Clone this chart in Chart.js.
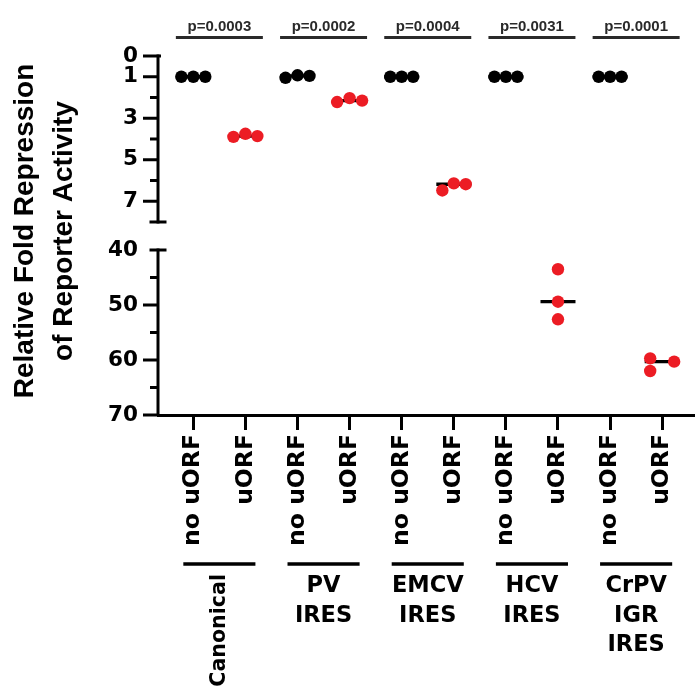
<!DOCTYPE html>
<html><head><meta charset="utf-8">
<script src="https://cdn.jsdelivr.net/npm/chart.js@4/dist/chart.umd.min.js"></script>
<style>html,body{margin:0;padding:0;background:#fff}canvas{display:block}</style>
</head><body>
<canvas id="c" width="695" height="692"></canvas>
<script>
// ---- data ----
const tickLabels = ['no uORF','uORF','no uORF','uORF','no uORF','uORF','no uORF','uORF','no uORF','uORF'];
const groupLabels = [['Canonical'],['PV','IRES'],['EMCV','IRES'],['HCV','IRES'],['CrPV','IGR','IRES']];
const pValues = ['p=0.0003','p=0.0002','p=0.0004','p=0.0031','p=0.0001'];
const noUorfValues = [[1,1,1],[1.05,0.93,0.96],[1,1,1],[1,1,1],[1,1,1]];
const uorfValues = [[3.9,3.75,3.86],[2.22,2.03,2.15],[6.48,6.14,6.18],[43.5,49.4,52.6],[59.7,62.0,60.3]];
const noUorfSpread = [[-0.23,0,0.23],[-0.23,0,0.23],[-0.22,0,0.22],[-0.22,0,0.22],[-0.22,0,0.22]];
const uorfSpread = [[-0.23,0,0.23],[-0.24,0,0.24],[-0.22,0,0.23],[0,0,0],[-0.23,-0.23,0.23]];
const topTicks = [0,1,3,5,7];
const topMinor = [2,4,6];
const topBreak = 8;
const bottomTicks = [40,50,60,70];
const bottomMinor = [45,55,65];
const bottomBreak = 40;
const yTitle = ['Relative Fold Repression','of Reporter Activity'];

// ---- build datasets ----
const median = a => { const s=[...a].sort((p,q)=>p-q); return s[Math.floor(s.length/2)]; };
const axisFor = v => v <= topBreak ? 'yTop' : 'yBot';
const blackPts = [], redTop = [], redBot = [], medTop = [], medBot = [];
noUorfValues.forEach((vals,g)=>{
  vals.forEach((v,i)=>blackPts.push({x:2*g+noUorfSpread[g][i], y:v}));
  const m = median(vals); (axisFor(m)==='yTop'?medTop:medBot).push({x:2*g, y:m});
});
uorfValues.forEach((vals,g)=>{
  vals.forEach((v,i)=>{ const p={x:2*g+1+uorfSpread[g][i], y:v}; (axisFor(v)==='yTop'?redTop:redBot).push(p); });
  const m = median(vals); (axisFor(m)==='yTop'?medTop:medBot).push({x:2*g+1, y:m});
});
const RED = '#EC1C24';
const dotStyle = c => ({pointRadius:6.2, pointBackgroundColor:c, pointBorderColor:c, pointBorderWidth:0, showLine:false, order:0});
const medStyle = {pointStyle:'line', pointRadius:17.5, pointBorderColor:'#000', pointBorderWidth:3.3, showLine:false, order:5};

const yTick = {color:'#000', padding:20, font:{family:'DejaVu Sans', weight:'bold', size:21.5}};

const axisPlugin = {
  id:'brokenAxis',
  afterDraw(chart){
    const ctx = chart.ctx, yt = chart.scales.yTop, yb = chart.scales.yBot, xs = chart.scales.x;
    const X = chart.chartArea.left;
    ctx.save();
    ctx.strokeStyle = '#000'; ctx.lineWidth = 3; ctx.lineCap = 'butt';
    const seg = (x1,y1,x2,y2)=>{ctx.beginPath();ctx.moveTo(x1,y1);ctx.lineTo(x2,y2);ctx.stroke();};
    // top segment
    seg(X, yt.getPixelForValue(topTicks[0])-1.5, X, yt.getPixelForValue(topBreak)+1.5);
    topTicks.forEach((v,i)=>seg(X-15, yt.getPixelForValue(v), i===0?X+3:X, yt.getPixelForValue(v)));
    topMinor.forEach(v=>seg(X-8, yt.getPixelForValue(v), X, yt.getPixelForValue(v)));
    seg(X-8.5, yt.getPixelForValue(topBreak), X+8.5, yt.getPixelForValue(topBreak));
    // bottom segment
    seg(X, yb.getPixelForValue(bottomBreak)-1.5, X, yb.getPixelForValue(bottomTicks[bottomTicks.length-1]));
    seg(X-8.5, yb.getPixelForValue(bottomBreak), X+8.5, yb.getPixelForValue(bottomBreak));
    bottomTicks.forEach(v=>{ if(v!==bottomBreak) seg(X-15, yb.getPixelForValue(v), X, yb.getPixelForValue(v)); });
    bottomMinor.forEach(v=>seg(X-8, yb.getPixelForValue(v), X, yb.getPixelForValue(v)));

    // group annotations
    groupLabels.forEach((lines,g)=>{
      const x0 = xs.getPixelForValue(2*g), x1 = xs.getPixelForValue(2*g+1), cx=(x0+x1)/2;
      // p-value bar
      ctx.strokeStyle = '#2a2a2a'; ctx.lineWidth = 3;
      seg(cx-43.5, 37.5, cx+43.5, 37.5);
      ctx.fillStyle = '#2a2a2a';
      ctx.font = 'bold 15px "Liberation Sans"'; ctx.textAlign='center'; ctx.textBaseline='alphabetic';
      ctx.fillText(pValues[g], cx, 30.5);
      // group line
      ctx.strokeStyle = '#000'; ctx.lineWidth = 3.5;
      seg(x0-10, 564, x1+10, 564);
      ctx.fillStyle = '#000';
      if (lines.length===1){
        ctx.font = 'bold 20.6px "DejaVu Sans"';
        ctx.save(); ctx.translate(cx, 574); ctx.rotate(-Math.PI/2);
        ctx.textAlign='right'; ctx.textBaseline='middle'; ctx.fillText(lines[0],0,0); ctx.restore();
      } else {
        ctx.font = 'bold 22.5px "DejaVu Sans"';
        lines.forEach((t,k)=>{ ctx.textAlign='center'; ctx.textBaseline='alphabetic'; ctx.fillText(t, cx, 592+29.5*k); });
      }
    });
    // y title
    ctx.fillStyle = '#000'; ctx.font = 'bold 28px "Liberation Sans"';
    [33,72].forEach((bx,k)=>{
      ctx.save(); ctx.translate(bx, 231); ctx.rotate(-Math.PI/2);
      ctx.textAlign='center'; ctx.textBaseline='alphabetic'; ctx.fillText(yTitle[k],0,0); ctx.restore();
    });
    ctx.restore();
  }
};

new Chart(document.getElementById('c'), {
  type:'scatter',
  data:{datasets:[
    Object.assign({label:'no uORF', data:blackPts, yAxisID:'yTop'}, dotStyle('#000')),
    Object.assign({label:'uORF', data:redTop, yAxisID:'yTop'}, dotStyle(RED)),
    Object.assign({label:'uORF ', data:redBot, yAxisID:'yBot'}, dotStyle(RED)),
    Object.assign({label:'median', data:medTop, yAxisID:'yTop'}, medStyle),
    Object.assign({label:'median ', data:medBot, yAxisID:'yBot'}, medStyle)
  ]},
  options:{
    responsive:false, animation:false, devicePixelRatio:1,
    layout:{autoPadding:false, padding:{left:60, top:56, right:0, bottom:0}},
    plugins:{legend:{display:false}, tooltip:{enabled:false}},
    scales:{
      x:{type:'linear', min:-0.678, max:9.63,
        afterBuildTicks:s=>{ s.ticks = tickLabels.map((_,i)=>({value:i})); },
        afterFit:s=>{ s.height = 277; s.paddingRight = 0; s.paddingLeft = 0; },
        ticks:{autoSkip:false, minRotation:90, maxRotation:90, padding:4, color:'#000',
          font:{family:'DejaVu Sans', weight:'bold', size:23.5}, callback:v=>tickLabels[v]},
        grid:{display:true, drawOnChartArea:false, drawTicks:true, tickLength:15, tickWidth:3, tickColor:'#000'},
        border:{display:true, width:3, color:'#000'}
      },
      yBot:{type:'linear', position:'left', stack:'y', stackWeight:165, weight:1, min:40, max:70, reverse:true,
        afterBuildTicks:s=>{ s.ticks = bottomTicks.map(v=>({value:v})); },
        afterFit:s=>{ s.width = 98; },
        ticks:yTick, grid:{display:false, drawTicks:false}, border:{display:false}
      },
      yTop:{type:'linear', position:'left', stack:'y', stackWeight:194, weight:2, min:0, max:9.35, reverse:true,
        afterBuildTicks:s=>{ s.ticks = topTicks.map(v=>({value:v})); },
        afterFit:s=>{ s.width = 98; },
        ticks:yTick, grid:{display:false, drawTicks:false}, border:{display:false}
      }
    }
  },
  plugins:[axisPlugin]
});
</script>
</body></html>
